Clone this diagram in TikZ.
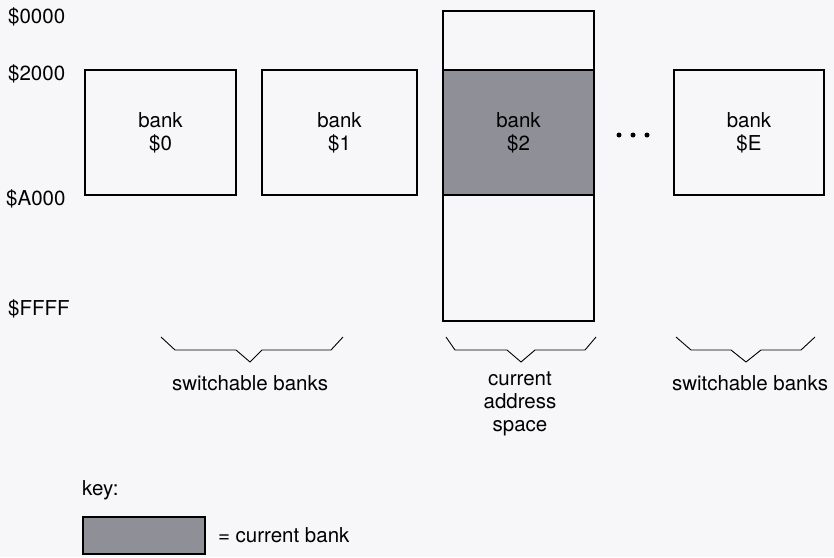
\documentclass[tikz,border=0pt]{standalone}
\usepackage{fontspec}
\setmainfont{TeX Gyre Heros}
\usetikzlibrary{positioning}
\definecolor{paper}{RGB}{247,247,249}
\definecolor{curbank}{RGB}{143,143,151}

\tikzset{
  bankbox/.style={draw, line width=1.6pt, inner sep=0pt, outer sep=0pt,
    align=center, minimum height=125pt},
  brace/.style={line width=0.9pt},
  addr/.style={inner sep=0pt, anchor=west},
}

\begin{document}
\begin{tikzpicture}[x=1pt,y=-1pt,font=\fontsize{20.5}{23}\selectfont]
  \fill[paper] (0,0) rectangle (834,557);
  \useasboundingbox (0,0) rectangle (834,557);
  % address labels
  \draw (8,17)node[addr](a0000){\$0000};
  \draw (8,74)node[addr](a2000){\$2000};
  \draw (6,199)node[addr](aA000){\$A000};
  \draw (8,309)node[addr](aFFFF){\$FFFF};
  % banks
  \draw (160.5,132.5)node[bankbox, minimum width=151pt](bank0){bank\\\$0};
  \node[bankbox, minimum width=155pt, right=26pt of bank0](bank1){bank\\\$1};
  \node[bankbox, minimum width=151pt, fill=curbank, right=26pt of bank1](bank2){bank\\\$2};
  \node[bankbox, minimum width=151pt, minimum height=59pt, above=0pt of bank2](top){};
  \node[bankbox, minimum width=151pt, minimum height=126pt, below=0pt of bank2](bottom){};
  \node[bankbox, minimum width=150pt, right=80pt of bank2](bankE){bank\\\$E};
  \foreach \x in {619,633,647}
    \fill (\x,135) circle (2.5pt);
  % braces
  \draw[brace] (161,337) -- (175,350) -- (236,350) -- (250,362) -- (262,350) -- (331,350) -- (343,337);
  \draw[brace] (446,337) -- (455,350) -- (507,350) -- (521,362) -- (535,350) -- (585,350) -- (596,337);
  \draw[brace] (676,337) -- (691,350) -- (731,350) -- (746,362) -- (761,350) -- (801,350) -- (815,337);
  \draw (250,383)node(sw1){switchable banks};
  \draw (520,372)node[anchor=north, inner sep=0pt, align=center](cur){current\\address\\space};
  \draw (750,383)node(sw2){switchable banks};
  % key
  \draw (82,490)node[addr](key){key:};
  \draw (144,535.5)node[draw, line width=1.6pt, fill=curbank, minimum width=122pt, minimum height=37pt, inner sep=0pt](keybox){};
  \node[right=12pt of keybox, inner sep=0pt](keytext){= current bank};
\end{tikzpicture}
\end{document}
